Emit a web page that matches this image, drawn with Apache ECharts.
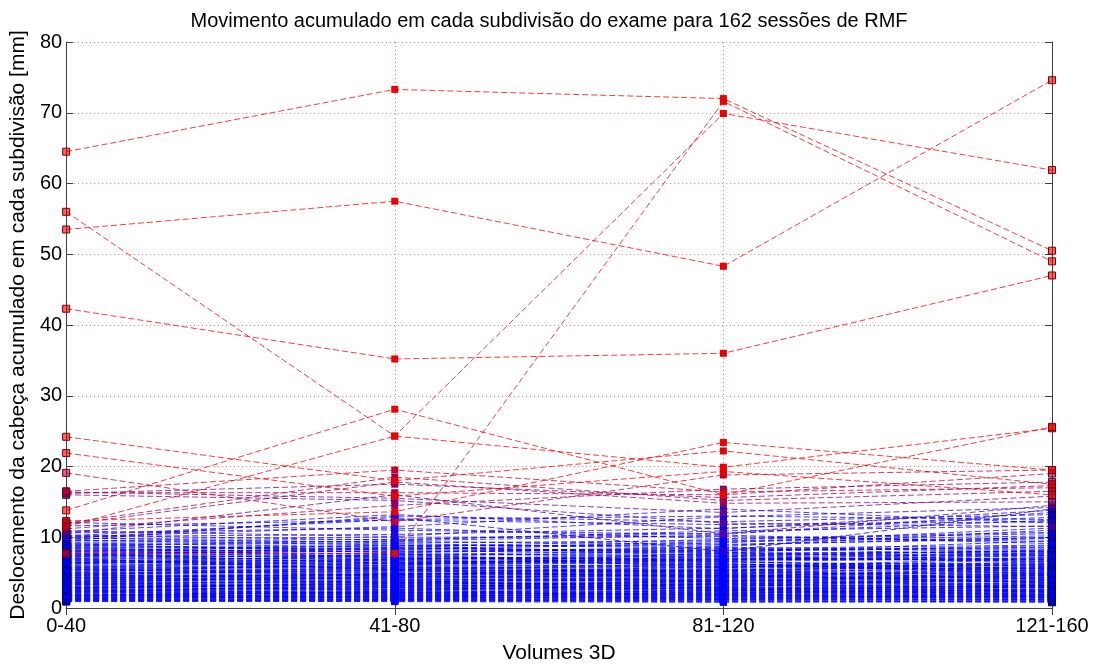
<!DOCTYPE html>
<html>
<head>
<meta charset="utf-8">
<title>Movimento acumulado</title>
<script src="https://cdn.jsdelivr.net/npm/echarts@6/dist/echarts.min.js"></script>
<style>
  html, body { margin: 0; padding: 0; background: #fff; }
  #chart { width: 1098px; height: 669px; }
</style>
</head>
<body>
<div id="chart"></div>
<script>
// subdivisões do exame (eixo x)
const categories = ['0-40', '41-80', '81-120', '121-160'];

// deslocamento acumulado [mm] por sessão, uma lista por subdivisão
// (primeiras 25 = sessões com mais movimento, depois as restantes)
const sub0040 = [
  64.5, 56.0, 53.5, 42.3, 7.7, 13.8, 11.5, 24.2, 21.9, 19.1, 16.5, 16.3, 16.2, 16.4, 16.0, 12.3, 12.0, 11.8, 11.2, 10.8, 10.5, 10.2, 9.8, 10.0, 9.5,
  12.1, 11.6, 10.9, 10.6, 10.3, 10.1, 9.9, 9.8, 9.6, 9.5,
  9.3, 9.2, 9.0, 8.9, 8.8, 8.7, 8.5, 8.4, 8.3, 8.2,
  8.1, 8.0, 7.9, 7.8, 7.7, 7.6, 7.5, 7.4, 7.3, 7.2,
  7.1, 7.0, 6.9, 6.8, 6.6, 6.5, 6.4, 6.3, 6.1, 6.0,
  5.9, 5.8, 5.7, 5.6, 5.5, 5.4, 5.2, 5.1, 5.0, 4.9,
  4.8, 4.7, 4.6, 4.5, 4.4, 4.3, 4.2, 4.1, 4.0, 3.9,
  3.8, 3.7, 3.6, 3.5, 3.4, 3.3, 3.2, 3.1, 3.0, 2.9,
  2.8, 2.7, 2.6, 2.5, 2.4, 2.3, 2.2, 2.1, 2.0, 1.9,
  1.8, 1.7, 1.6, 1.5, 1.4, 1.3, 1.2, 1.1, 1.0, 0.9,
  7.0, 6.2, 5.3, 4.6, 3.9, 3.4, 2.7, 2.2, 1.6, 1.4,
  8.6, 7.3, 6.7, 5.0, 4.4, 3.6, 3.0, 2.5, 1.9, 1.2,
  9.1, 6.4, 5.5, 4.8, 4.1, 3.3, 2.6, 2.0, 1.5, 1.1,
  7.7, 5.7, 4.7, 3.7, 2.9, 2.3, 1.7,
  8.0, 6.8, 5.4, 4.3, 3.5, 2.8, 2.4, 1.8, 1.3, 1.0
];
const sub4180 = [
  73.3, 24.3, 57.5, 35.2, 7.7, 28.1, 24.3, 18.0, 15.8, 12.2, 19.5, 16.3, 17.5, 15.5, 15.2, 13.6, 18.5, 17.8, 14.5, 13.2, 16.0, 12.5, 12.8, 11.5, 13.0,
  11.0, 12.4, 10.1, 11.3, 9.6, 10.4, 9.2, 10.0, 8.9, 9.7,
  9.4, 8.6, 9.1, 8.2, 9.5, 8.4, 8.8, 7.9, 8.5, 8.0,
  7.6, 8.3, 7.7, 7.3, 8.1, 7.0, 7.5, 7.2, 6.8, 7.4,
  6.9, 6.6, 7.1, 6.4, 6.7, 6.2, 6.5, 6.0, 6.3, 5.8,
  5.9, 5.6, 5.7, 5.4, 5.5, 5.2, 5.3, 4.9, 5.1, 4.7,
  4.8, 4.5, 4.6, 4.3, 4.4, 4.1, 4.2, 3.9, 4.0, 3.7,
  3.8, 3.5, 3.6, 3.3, 3.4, 3.2, 3.1, 2.9, 3.0, 2.8,
  2.7, 2.6, 2.5, 2.4, 2.3, 2.2, 2.1, 2.0, 1.9, 1.8,
  1.7, 1.6, 1.5, 1.4, 1.3, 1.2, 1.1, 1.0, 0.9, 1.0,
  5.4, 7.6, 6.1, 5.8, 4.7, 2.6, 3.7, 3.2, 2.4, 1.6,
  7.1, 8.6, 5.5, 6.4, 3.6, 4.5, 2.5, 2.9, 2.2, 1.3,
  7.8, 6.9, 4.6, 5.3, 4.9, 3.9, 2.1, 1.5, 1.9, 1.2,
  6.3, 6.8, 4.1, 4.3, 3.4, 1.8, 2.3,
  8.9, 6.0, 5.0, 4.8, 3.0, 3.5, 2.0, 1.4, 1.7, 1.1
];
const sub81120 = [
  72.0, 69.9, 48.3, 36.0, 71.6, 16.0, 19.9, 22.2, 19.3, 18.8, 16.4, 16.0, 15.6, 13.5, 12.0, 23.4, 15.2, 14.8, 16.8, 11.2, 10.5, 13.0, 8.0, 14.0, 12.2,
  10.4, 11.8, 12.9, 9.8, 10.9, 11.3, 9.5, 10.1, 8.7, 10.6,
  9.0, 9.7, 8.4, 9.2, 10.3, 8.1, 8.9, 8.6, 7.8, 8.3,
  7.5, 9.4, 7.2, 8.0, 7.7, 6.9, 8.2, 7.0, 7.4, 6.6,
  7.1, 6.7, 6.4, 6.8, 6.1, 6.5, 6.9, 5.9, 6.2, 5.6,
  6.0, 5.4, 5.8, 5.2, 5.5, 5.0, 5.3, 4.8, 5.1, 4.6,
  4.9, 4.4, 4.7, 4.2, 4.5, 4.0, 4.3, 3.8, 4.1, 3.6,
  3.9, 3.4, 3.7, 3.3, 3.5, 3.1, 3.2, 2.9, 3.0, 2.7,
  2.8, 2.5, 2.6, 2.3, 2.4, 2.1, 2.2, 1.9, 2.0, 1.7,
  1.8, 1.5, 1.6, 1.4, 1.3, 1.2, 1.1, 1.0, 0.8, 0.9,
  6.3, 5.7, 7.3, 5.1, 5.9, 4.1, 3.0, 2.7, 3.4, 2.0,
  6.8, 7.9, 4.9, 6.6, 4.4, 3.9, 3.5, 2.4, 1.8, 1.6,
  8.5, 7.6, 5.3, 4.3, 4.6, 2.8, 2.9, 2.3, 1.4, 1.3,
  5.7, 6.2, 3.7, 4.8, 2.6, 2.5, 1.9,
  7.3, 7.8, 4.5, 5.4, 3.8, 3.3, 2.1, 1.7, 1.2, 1.0
];
const sub121160 = [
  50.5, 61.9, 74.6, 47.0, 49.0, 25.6, 25.4, 17.5, 16.0, 19.5, 17.0, 19.0, 17.3, 15.8, 11.5, 19.5, 16.5, 15.0, 17.8, 13.8, 14.5, 12.5, 14.0, 12.0, 13.2,
  13.5, 12.2, 14.2, 10.7, 11.6, 12.8, 10.2, 9.4, 11.0, 12.4,
  9.8, 10.5, 8.9, 11.3, 9.1, 8.6, 10.0, 7.9, 9.5, 8.3,
  8.0, 9.9, 7.6, 8.8, 7.3, 7.8, 8.5, 6.9, 7.7, 7.0,
  6.6, 7.4, 6.2, 7.1, 6.4, 5.9, 6.8, 6.1, 5.7, 6.3,
  5.5, 5.8, 6.0, 5.2, 5.6, 4.9, 5.4, 5.0, 4.7, 5.1,
  4.5, 4.8, 4.3, 4.6, 4.1, 4.4, 3.9, 4.2, 3.7, 4.0,
  3.6, 3.8, 3.4, 3.5, 3.2, 3.3, 3.0, 3.1, 2.8, 2.9,
  2.6, 2.7, 2.4, 2.5, 2.2, 2.3, 2.0, 2.1, 1.8, 1.9,
  1.6, 1.7, 1.5, 1.4, 1.3, 1.2, 1.1, 0.9, 1.0, 0.8,
  4.8, 7.2, 6.5, 6.6, 5.3, 4.9, 4.3, 1.9, 2.9, 2.6,
  7.5, 6.7, 5.9, 5.5, 5.7, 3.1, 3.9, 3.4, 2.4, 1.4,
  7.4, 8.1, 6.2, 4.4, 3.6, 3.2, 2.3, 1.7, 2.0, 1.2,
  6.9, 5.1, 4.6, 3.5, 3.0, 2.2, 1.6,
  8.2, 7.9, 5.4, 4.0, 4.7, 2.5, 3.0, 1.5, 1.8, 1.0
];

const yTicks = [0, 10, 20, 30, 40, 50, 60, 70, 80];

// cor da sessão: azul -> vermelho conforme o máximo deslocamento
function sessionColor(vals, k) {
  const m = Math.max(...vals);
  const t = Math.min(1, Math.max(0, (m - 13) / 8));
  const r = Math.round(235 * t * k);
  const b = Math.round(255 * (1 - t) * k);
  return [r, 0, b];
}
function rgba(c, a) {
  return 'rgba(' + c[0] + ',' + c[1] + ',' + c[2] + ',' + a + ')';
}

const nSessions = Math.min(sub0040.length, sub4180.length, sub81120.length, sub121160.length);
const sessions = [];
for (let i = 0; i < nSessions; i++) {
  sessions.push([sub0040[i], sub4180[i], sub81120[i], sub121160[i]]);
}
// desenhar as mais calmas primeiro, as vermelhas por cima
sessions.sort((a, b) => Math.max(...a) - Math.max(...b));

const series = sessions.map((vals, i) => {
  const c = sessionColor(vals, 1);
  const dark = sessionColor(vals, 0.55);
  return {
    name: 'sessao' + (i + 1),
    type: 'line',
    data: vals.map((v, j) => {
      if (j === 0 || j === vals.length - 1) {
        return { value: v, itemStyle: { color: rgba(c, 0.6), borderColor: rgba(dark, 1), borderWidth: 1 } };
      }
      return v;
    }),
    symbol: 'rect',
    symbolSize: 7,
    showSymbol: true,
    lineStyle: { color: rgba(c, 0.75), width: 1, type: [6, 3] },
    itemStyle: { color: rgba(c, 1) },
    emphasis: { disabled: true },
    silent: true
  };
});

const chartDom = document.getElementById('chart');
const myChart = echarts.init(chartDom, null, { renderer: 'canvas' });

const font = 'Liberation Sans, Arial, sans-serif';
const option = {
  animation: false,
  backgroundColor: '#fff',
  title: {
    text: 'Movimento acumulado em cada subdivisão do exame para 162 sessões de RMF',
    left: 'center',
    top: 6,
    textStyle: { fontFamily: font, fontSize: 20, fontWeight: 'normal', color: '#000' }
  },
  grid: { left: 63, right: 46, top: 42, bottom: 47, containLabel: false },
  xAxis: [
    {
      type: 'category',
      data: categories,
      boundaryGap: false,
      name: 'Volumes 3D',
      nameLocation: 'middle',
      nameGap: 35,
      nameTextStyle: { fontFamily: font, fontSize: 21, color: '#000' },
      axisLine: { lineStyle: { color: '#8a8aa0', width: 1 } },
      axisTick: { inside: true, length: 7, lineStyle: { color: '#404040' } },
      axisLabel: { fontFamily: font, fontSize: 20, color: '#000', margin: 8 },
      splitLine: { show: true, lineStyle: { color: 'rgba(235,90,90,0.8)', type: [1, 3], width: 1 } }
    },
    {
      type: 'category',
      data: categories,
      boundaryGap: false,
      position: 'top',
      axisLine: { lineStyle: { color: '#404040' } },
      axisTick: { inside: true, length: 7, lineStyle: { color: '#404040' } },
      axisLabel: { show: false },
      splitLine: { show: false }
    }
  ],
  yAxis: [
    {
      type: 'value',
      min: yTicks[0],
      max: yTicks[yTicks.length - 1],
      interval: 10,
      name: 'Deslocamento da cabeça acumulado em cada subdivisão [mm]',
      nameLocation: 'middle',
      nameRotate: 90,
      nameGap: 31,
      nameTextStyle: { fontFamily: font, fontSize: 21, color: '#000' },
      axisLine: { show: true, lineStyle: { color: '#404040' } },
      axisTick: { show: true, inside: true, length: 7, lineStyle: { color: '#404040' } },
      axisLabel: { fontFamily: font, fontSize: 20, color: '#000', margin: 4 },
      splitLine: { show: true, lineStyle: { color: 'rgba(235,90,90,0.8)', type: [1, 3], width: 1 } }
    },
    {
      type: 'value',
      min: yTicks[0],
      max: yTicks[yTicks.length - 1],
      interval: 10,
      position: 'right',
      axisLine: { show: true, lineStyle: { color: '#404040' } },
      axisTick: { show: true, inside: true, length: 7, lineStyle: { color: '#404040' } },
      axisLabel: { show: false },
      splitLine: { show: false }
    }
  ],
  series: series
};
myChart.setOption(option);
</script>
</body>
</html>
